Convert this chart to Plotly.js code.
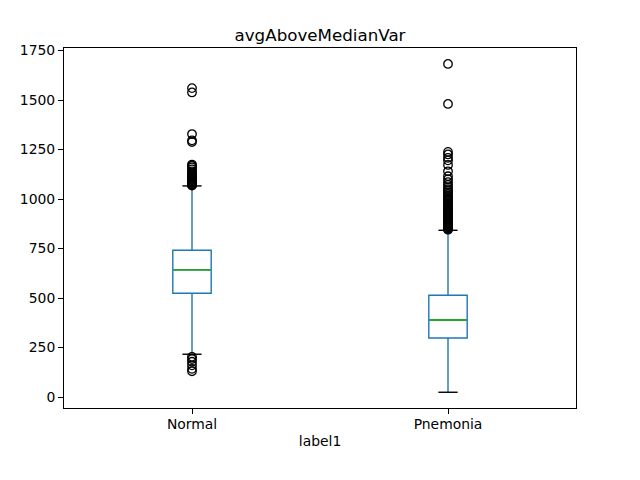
<!DOCTYPE html>
<html>
<head>
<meta charset="utf-8">
<script src="https://cdn.plot.ly/plotly-3.0.1.min.js"></script>
<style>html,body{margin:0;padding:0;background:#fff;}#chart{width:640px;height:480px;}</style>
</head>
<body>
<div id="chart"></div>
<script>
// ---- data ----
const categories = ["Normal", "Pnemonia"];
const q1Values = [524, 298];
const medianValues = [642, 389];
const q3Values = [741, 514];
const lowerWhiskers = [216, 24];
const upperWhiskers = [1066, 842];
const normalOutliers = [130, 142, 160, 178, 192, 203,
  1068, 1071, 1074, 1078, 1082, 1086, 1090, 1094, 1098, 1102, 1106, 1110, 1114, 1118, 1124,
  1132, 1140, 1150, 1160, 1168, 1174, 1288, 1296, 1328, 1538, 1560];
const pnemoniaOutliers = [845, 848, 852, 856, 860, 864, 868, 872, 876, 880, 884, 888, 892, 896,
  900, 904, 908, 912, 916, 920, 925, 930, 935, 940, 945, 950, 955, 960, 966, 972, 978, 984, 990,
  996, 1002, 1010, 1018, 1026, 1034, 1042, 1050, 1060, 1072, 1085, 1100, 1115, 1140, 1172, 1195,
  1208, 1225, 1238, 1480, 1682];
const outlierSets = [normalOutliers, pnemoniaOutliers];

// ---- styles ----
const BLUE = "#1f77b4", GREEN = "#2ca02c", BLACK = "#000000";
const boxWidth = 0.15;
const capHalf = boxWidth / 4;
const medHalf = boxWidth / 2;
const positions = categories.map((c, i) => i);

const traces = [];

traces.push({
  type: "box",
  x: positions,
  q1: q1Values,
  median: medianValues,
  q3: q3Values,
  lowerfence: lowerWhiskers,
  upperfence: upperWhiskers,
  width: boxWidth,
  whiskerwidth: 0,
  boxpoints: false,
  fillcolor: "rgba(0,0,0,0)",
  line: {color: BLUE, width: 1.4},
  hoverinfo: "skip",
  showlegend: false
});

// medians (green)
const mx = [], my = [];
positions.forEach((p, i) => { mx.push(p - medHalf * 0.97, p + medHalf * 0.97, null); my.push(medianValues[i], medianValues[i], null); });
traces.push({type: "scatter", mode: "lines", x: mx, y: my, line: {color: GREEN, width: 1.8}, hoverinfo: "skip", showlegend: false});

// caps (black)
const cx = [], cy = [];
positions.forEach((p, i) => {
  cx.push(p - capHalf, p + capHalf, null, p - capHalf, p + capHalf, null);
  cy.push(lowerWhiskers[i], lowerWhiskers[i], null, upperWhiskers[i], upperWhiskers[i], null);
});
traces.push({type: "scatter", mode: "lines", x: cx, y: cy, line: {color: BLACK, width: 1.4}, hoverinfo: "skip", showlegend: false});

// outliers
positions.forEach((p, i) => {
  traces.push({
    type: "scatter", mode: "markers",
    x: outlierSets[i].map(() => p), y: outlierSets[i],
    marker: {symbol: "circle-open", size: 8.5, color: BLACK, line: {color: BLACK, width: 1.3}},
    hoverinfo: "skip", showlegend: false
  });
});

const font = {family: "DejaVu Sans", size: 13.9, color: "#000"};
const layout = {
  width: 640, height: 480,
  margin: {l: 64, r: 64, t: 48, b: 72, pad: 0},
  paper_bgcolor: "#fff", plot_bgcolor: "#fff",
  font: font,
  showlegend: false,
  title: {text: "avgAboveMedianVar", font: {family: "DejaVu Sans", size: 16.7, color: "#000"},
          x: 0.5, xref: "paper", y: 1, yref: "paper", yanchor: "bottom", pad: {b: 7}},
  xaxis: {
    range: [-0.5, 1.5], tickvals: positions, ticktext: categories,
    showline: true, mirror: true, linecolor: BLACK, linewidth: 1,
    ticks: "outside", ticklen: 5, tickwidth: 1, tickcolor: BLACK,
    ticklabelstandoff: -2,
    showgrid: false, zeroline: false,
    title: {text: "label1", font: font, standoff: 5}
  },
  yaxis: {
    range: [-55.5, 1762.6], tickvals: [0, 250, 500, 750, 1000, 1250, 1500, 1750],
    showline: true, mirror: true, linecolor: BLACK, linewidth: 1,
    ticks: "outside", ticklen: 5, tickwidth: 1, tickcolor: BLACK,
    showgrid: false, zeroline: false
  }
};

Plotly.newPlot("chart", traces, layout, {staticPlot: true, displayModeBar: false});
</script>
</body>
</html>
